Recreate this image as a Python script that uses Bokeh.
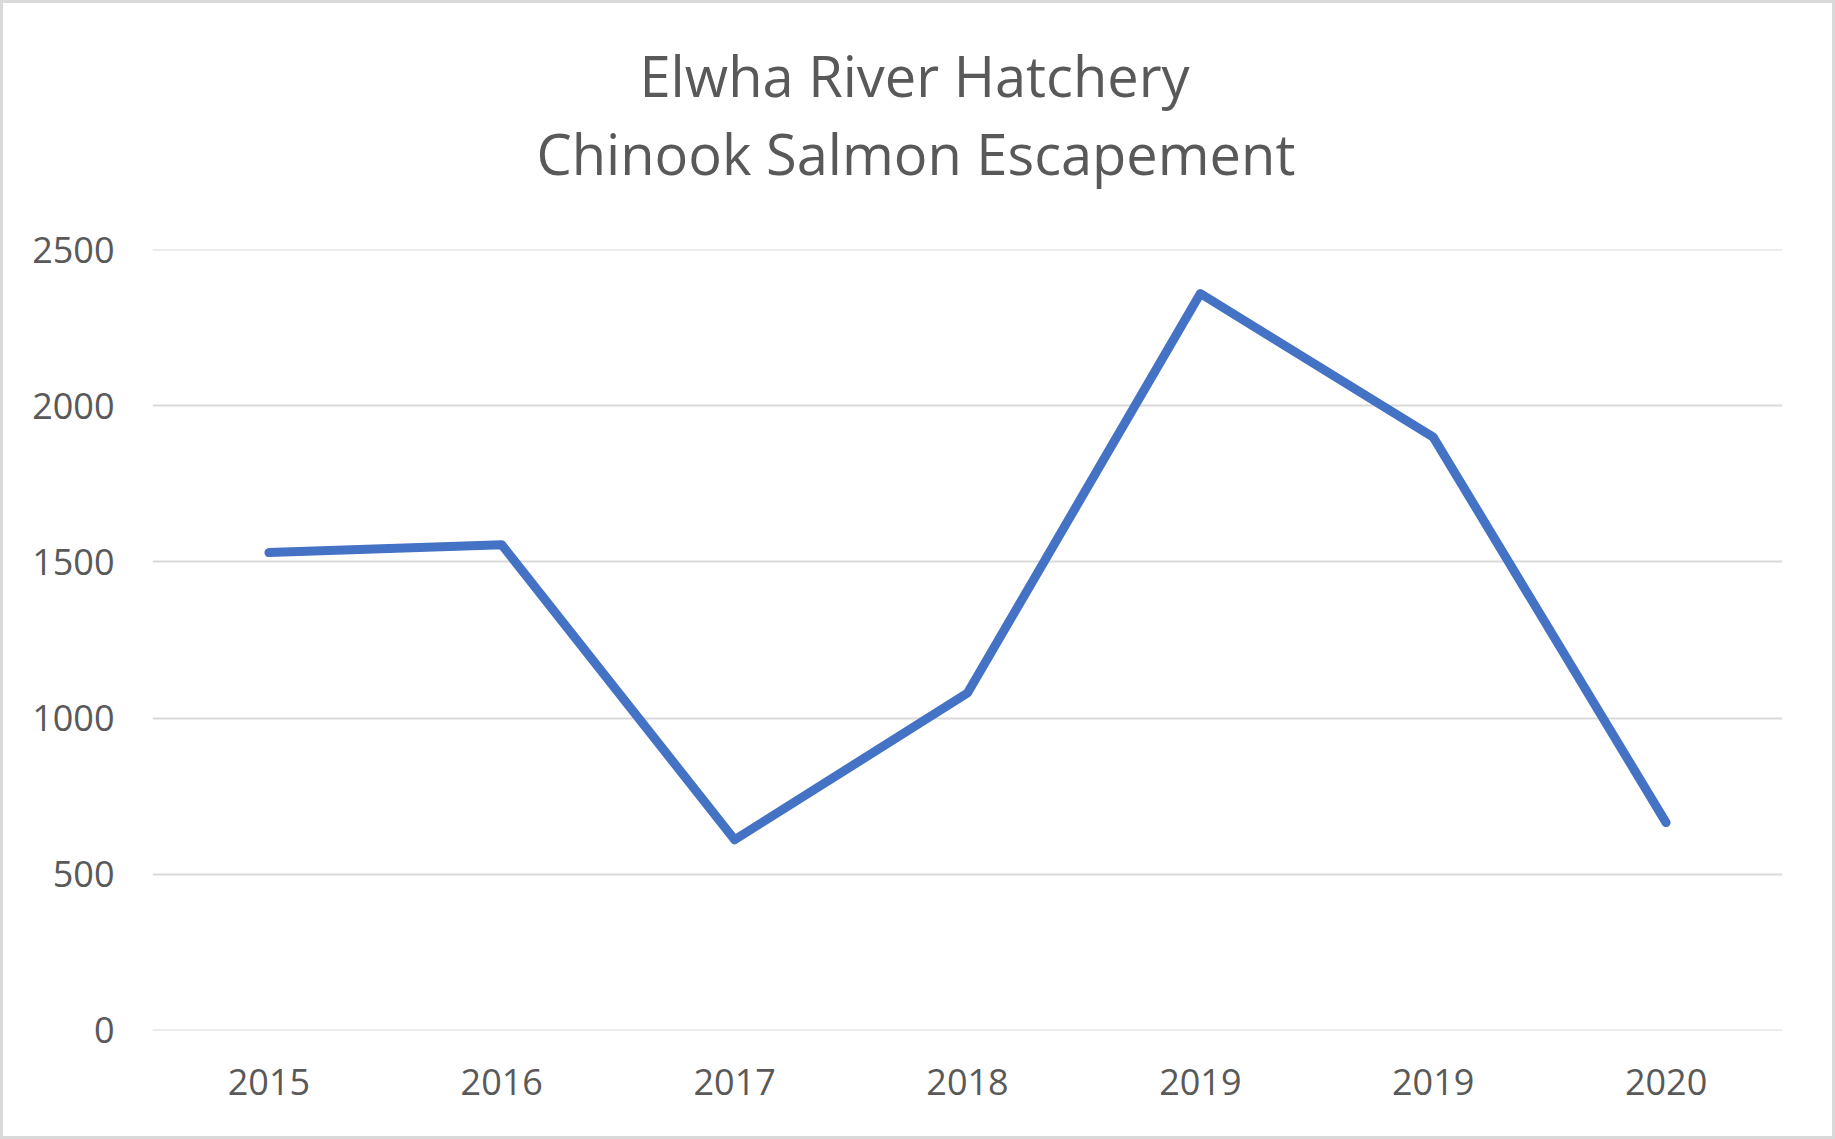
from bokeh.plotting import figure
from bokeh.models import Range1d, FixedTicker, Title
from bokeh.embed import file_html
from bokeh.resources import INLINE

# ---- data ----
year_labels = ["2015", "2016", "2017", "2018", "2019", "2019", "2020"]
escapement = [1530, 1555, 610, 1080, 2360, 1900, 665]
y_ticks = [0, 500, 1000, 1500, 2000, 2500]
title_lines = ["Elwha River Hatchery", "Chinook Salmon Escapement"]

positions = list(range(len(year_labels)))

TEXT = "#595959"
GRID = "#d9d9d9"
FONT = "Open Sans"

p = figure(width=1835, height=1139, output_backend="svg", toolbar_location=None,
           x_range=Range1d(-0.5, len(year_labels) - 0.5),
           y_range=Range1d(-1, 2501),
           min_border_left=152, min_border_right=53,
           min_border_top=249, min_border_bottom=109,
           title=None)
p.outline_line_color = None
p.background_fill_color = "white"
p.border_fill_color = None
p.styles = {"background-color": "white",
            "box-shadow": "inset 0 0 0 3px #d9d9d9"}

# grid
p.xgrid.grid_line_color = None
p.ygrid.grid_line_color = GRID
p.ygrid.grid_line_width = 2

# axes
p.yaxis.ticker = FixedTicker(ticks=y_ticks)
p.xaxis.ticker = FixedTicker(ticks=positions)
p.xaxis.major_label_overrides = {i: lab for i, lab in zip(positions, year_labels)}
for ax in (p.xaxis, p.yaxis):
    ax.axis_line_color = None
    ax.major_tick_line_color = None
    ax.minor_tick_line_color = None
    ax.major_tick_out = 0
    ax.major_tick_in = 0
    ax.major_label_text_font = FONT
    ax.major_label_text_font_size = "36px"
    ax.major_label_text_color = TEXT
p.yaxis.major_label_standoff = 38
p.xaxis.major_label_standoff = 38

# series
p.line(positions, escapement, line_color="#4472C4", line_width=9,
       line_join="round", line_cap="round")

# two-line title, centred on the whole chart (panels stack outward from the plot)
p.add_layout(Title(text=" ", standoff=56, text_font_size="1px"), "above")  # spacer
p.add_layout(Title(text=title_lines[1], align="left", offset=384, text_font=FONT,
                   text_font_size="56px", text_color=TEXT,
                   text_font_style="normal", standoff=0), "above")
p.add_layout(Title(text=title_lines[0], align="left", offset=487, text_font=FONT,
                   text_font_size="56px", text_color=TEXT,
                   text_font_style="normal", standoff=0), "above")

open("out.html", "w").write(file_html(p, INLINE))
